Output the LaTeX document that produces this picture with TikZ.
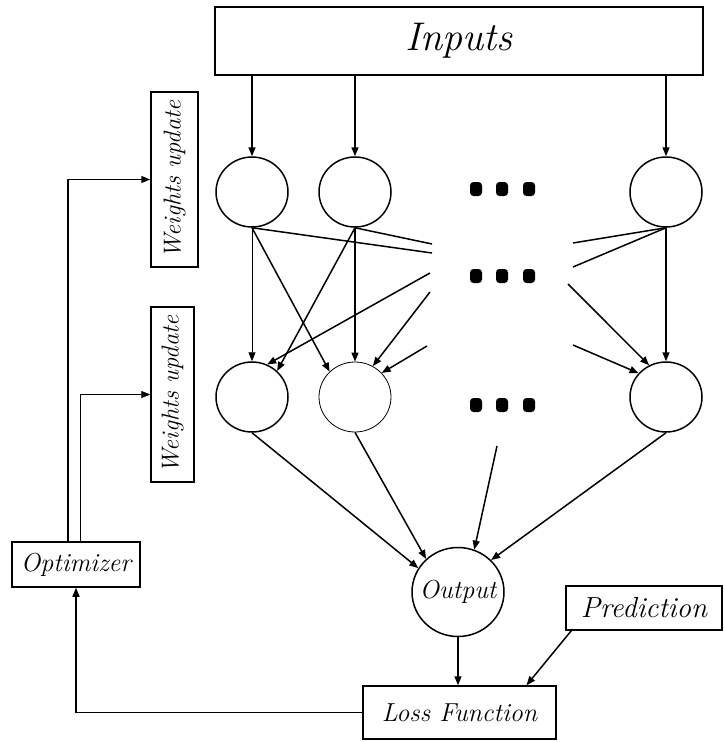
\documentclass[tikz,border=0pt]{standalone}
\usetikzlibrary{shapes.geometric,arrows.meta,calc}
\begin{document}
\begin{tikzpicture}[x=1pt,y=-1pt,
  ln/.style={line width=1.5pt},
  thin ln/.style={line width=0.9pt},
  arr/.style={-{Triangle[length=9pt,width=7pt]}},
  neuron/.style={draw,ellipse,line width=1.5pt,minimum width=72pt,minimum height=70pt,inner sep=0pt},
  box/.style={draw,rectangle,line width=1.5pt,inner sep=0pt,font=\fontsize{26}{29}\selectfont\itshape},
  dotb/.style={fill=black,rounded corners=3.5pt,minimum width=12pt,minimum height=14pt,inner sep=0pt}
]
\useasboundingbox (0,0) rectangle (724,742);

% boxes
\node[box,minimum width=488pt,minimum height=68pt,font=\fontsize{40}{44}\selectfont\itshape] (inputs) at (459,41) {Inputs};
\node[box,rotate=90,minimum width=175pt,minimum height=47pt,font=\fontsize{24.5}{27}\selectfont\itshape] (wu1) at (174.5,179.5) {Weights update};
\node[box,rotate=90,minimum width=175pt,minimum height=43pt,font=\fontsize{24.5}{27}\selectfont\itshape] (wu2) at (172.5,394.5) {Weights update};
\node[box,minimum width=128pt,minimum height=45pt] (opt) at (76,564.5) {Optimizer};
\node[box,minimum width=193pt,minimum height=53pt] (loss) at (459.5,712.5) {Loss Function};
\node[box,minimum width=156pt,minimum height=44pt,font=\fontsize{29}{32}\selectfont\itshape] (pred) at (644,608) {Prediction};

% neurons
\node[neuron] (h1) at (252,192) {};
\node[neuron] (h2) at (355,192) {};
\node[neuron] (h3) at (666,192) {};
\node[neuron] (b1) at (252,397) {};
\node[neuron,line width=0.8pt] (b2) at (355,397) {};
\node[neuron] (b3) at (666,397) {};
\node[draw,ellipse,line width=1.5pt,minimum width=92pt,minimum height=89pt,inner sep=0pt,
  label={[font=\fontsize{26}{29}\selectfont\itshape]center:Output}] (out) at (458,592) {};

% dots
\foreach \r/\y in {1/189,2/276,3/405}{
  \node[dotb] (d\r a) at (476,\y) {};
  \node[dotb] (d\r b) at (502,\y) {};
  \node[dotb] (d\r c) at (529,\y) {};
}

% free ends
\coordinate (e1) at (432,253);
\coordinate (e2) at (432,244);
\coordinate (s1) at (430,273);
\coordinate (s2) at (430,292);
\coordinate (s3) at (427,346);
\coordinate (e3) at (573,243);
\coordinate (e4) at (573,267);
\coordinate (s4) at (568,284);
\coordinate (s5) at (573,345);
\coordinate (s6) at (497,446);

% inputs to top neurons
\foreach \n in {h1,h2,h3}
  \draw[ln,arr] (\n.north |- inputs.south) -- (\n.north);

% top to bottom
\draw[thin ln,arr] (h1.south) -- (b1.north);
\draw[ln,arr] (h1.south) -- (b2.135);
\draw[ln] (h1.south) -- (e1);
\draw[ln,arr] (h2.south) -- (b2.north);
\draw[ln,arr] (h2.south) -- (b1.46);
\draw[ln] (h2.south) -- (e2);
\draw[ln,arr] (s1) -- (b1.65);
\draw[ln,arr] (s2) -- (b2.60);
\draw[ln,arr] (s3) -- (b2.42);
\draw[ln] (h3.south) -- (e3);
\draw[ln] (h3.south) -- (e4);
\draw[ln,arr] (h3.south) -- (b3.north);
\draw[ln,arr] (s4) -- (b3.118);
\draw[ln,arr] (s5) -- (b3.139);

% bottom to output
\draw[ln,arr] (b1.south) -- (out.149);
\draw[ln,arr] (b2.south) -- (out.134);
\draw[ln,arr] (s6) -- (out.69);
\draw[ln,arr] (b3.south) -- (out.44);

% output / prediction to loss
\draw[ln,arr] (out.south) -- (loss.north -| out.south);
\draw[ln,arr] ($(pred.south west)+(6,0)$) -- ($(loss.north)+(67,0)$);

% loss to optimizer
\draw[ln,arr] (loss.west) -| (opt.south);

% optimizer to weights update
\draw[ln,arr] ($(opt.north)+(-8,0)$) |- (wu1.north);
\draw[thin ln,arr] ($(opt.north)+(4,0)$) |- (wu2.north);
\end{tikzpicture}
\end{document}
